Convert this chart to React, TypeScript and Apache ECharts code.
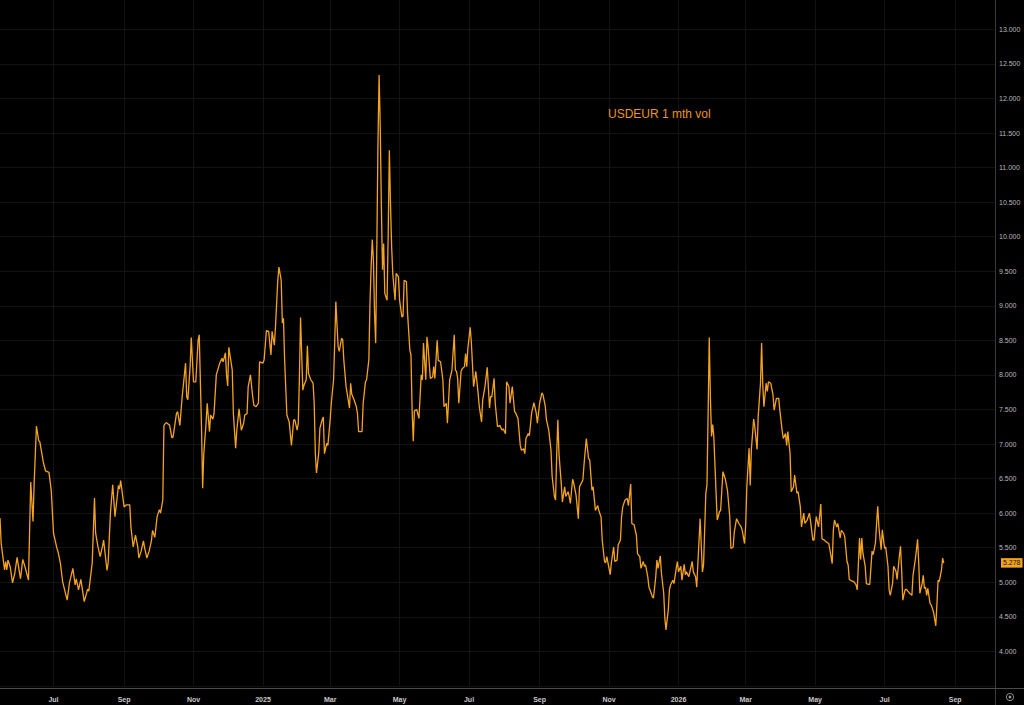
import React, { useEffect, useRef } from "react";
import * as echarts from "echarts";

// ---- data ----
const START_DATE = "2024-05-15";
const END_DATE = "2026-10-06";
const SERIES_NAME = "USDEUR 1 mth vol";
const LAST_VALUE = 5.278;
const MONTH_NAMES = ["Jan", "Feb", "Mar", "Apr", "May", "Jun", "Jul", "Aug", "Sep", "Oct", "Nov", "Dec"];
const LABEL_MONTHS = [1, 3, 5, 7, 9, 11];
const Y_MIN = 3.5;
const Y_MAX = 13.5;
const Y_STEP = 0.5;

// [days since START_DATE, 1-month implied vol]
const volSamples: [number, number][] = [
  [0, 5.93], [1, 5.57], [4, 5.18], [5, 5.3], [6, 5.18], [7, 5.32], [9, 5.22], [11, 4.99], [13, 5.13], [15, 5.36],
  [18, 5.05], [20, 5.33], [22, 5.22], [25, 5.03], [27, 6.45], [29, 5.88], [30, 6.43], [32, 7.26], [34, 7.05], [35, 7.03],
  [38, 6.74], [40, 6.61], [43, 6.59], [45, 6.33], [47, 5.71], [50, 5.49], [51, 5.44], [53, 5.28], [55, 5.01], [59, 4.74],
  [61, 4.99], [64, 5.2], [66, 4.96], [67, 5.05], [69, 4.89], [71, 5.04], [74, 4.72], [77, 4.9], [78, 4.87], [81, 5.28],
  [83, 6.22], [84, 5.71], [86, 5.52], [88, 5.37], [90, 5.52], [91, 5.61], [94, 5.17], [95, 5.28], [97, 6.0], [99, 6.41],
  [101, 5.95], [103, 6.24], [104, 6.4], [105, 6.35], [106, 6.47], [109, 6.09], [111, 6.12], [114, 6.12], [115, 5.8], [117, 5.51],
  [119, 5.68], [121, 5.51], [122, 5.35], [124, 5.45], [126, 5.6], [127, 5.5], [129, 5.35], [131, 5.45], [133, 5.6], [134, 5.75],
  [136, 5.65], [138, 5.95], [140, 6.05], [141, 6.0], [143, 6.19], [144, 7.27], [146, 7.31], [149, 7.27], [151, 7.09], [152, 7.1],
  [155, 7.44], [156, 7.47], [158, 7.27], [160, 7.68], [163, 8.17], [164, 7.68], [165, 7.64], [167, 8.12], [168, 8.54], [170, 7.9],
  [172, 7.9], [174, 8.5], [175, 8.58], [177, 7.25], [178, 6.36], [179, 6.86], [181, 7.3], [182, 7.59], [184, 7.18], [185, 7.42],
  [187, 7.36], [188, 7.44], [190, 8.0], [193, 8.17], [195, 8.24], [196, 8.19], [198, 8.32], [199, 8.0], [200, 7.84], [201, 8.4],
  [204, 8.07], [205, 7.44], [207, 6.94], [208, 7.2], [210, 7.51], [212, 7.2], [214, 7.3], [215, 7.42], [217, 7.44], [218, 7.83],
  [220, 8.0], [222, 7.68], [223, 7.56], [225, 7.54], [227, 7.59], [228, 8.19], [231, 8.17], [232, 8.22], [234, 8.64], [236, 8.63],
  [238, 8.29], [239, 8.63], [241, 8.43], [242, 8.7], [244, 9.37], [245, 9.56], [247, 9.37], [248, 8.75], [249, 8.82], [250, 8.22],
  [252, 7.42], [254, 7.32], [256, 6.98], [258, 7.35], [259, 7.35], [261, 7.2], [262, 7.3], [263, 7.97], [264, 8.83], [266, 7.78],
  [267, 7.85], [269, 7.93], [270, 8.42], [271, 8.02], [273, 7.93], [275, 7.88], [276, 7.59], [277, 6.86], [278, 6.58], [280, 6.88],
  [281, 7.23], [283, 7.35], [284, 7.39], [285, 6.86], [287, 7.01], [288, 6.98], [290, 7.35], [291, 7.59], [293, 7.93], [294, 8.46],
  [295, 9.06], [297, 8.41], [298, 8.34], [300, 8.53], [301, 8.51], [302, 8.22], [304, 7.83], [305, 7.73], [307, 7.52], [308, 7.88],
  [309, 7.72], [311, 7.64], [313, 7.54], [314, 7.44], [315, 7.18], [317, 7.18], [318, 7.18], [319, 7.59], [321, 7.9], [322, 7.93],
  [324, 8.22], [325, 9.04], [326, 9.57], [327, 9.96], [328, 9.66], [329, 8.89], [330, 8.46], [331, 9.86], [332, 11.35], [333, 12.34],
  [334, 11.59], [335, 10.43], [336, 9.52], [337, 9.9], [338, 9.18], [340, 9.08], [341, 10.05], [342, 11.25], [343, 10.48], [344, 9.86],
  [345, 9.47], [347, 9.08], [348, 9.47], [350, 9.42], [351, 9.08], [353, 8.84], [354, 8.85], [355, 9.37], [357, 9.35], [358, 8.89],
  [360, 8.36], [361, 8.29], [362, 7.49], [363, 7.04], [364, 7.48], [366, 7.5], [368, 7.37], [370, 8.0], [371, 7.93], [372, 8.46],
  [374, 7.93], [375, 8.55], [376, 8.41], [378, 7.95], [380, 7.97], [381, 8.12], [382, 7.95], [384, 8.5], [385, 8.21], [387, 8.19],
  [389, 7.93], [390, 7.54], [392, 7.59], [393, 7.3], [395, 7.93], [397, 8.07], [399, 8.58], [400, 8.07], [401, 8.05], [402, 7.95],
  [403, 7.59], [405, 8.05], [406, 8.09], [408, 8.12], [409, 8.31], [410, 8.12], [411, 8.39], [413, 8.69], [414, 8.48], [416, 7.83],
  [418, 8.05], [420, 7.73], [421, 7.54], [423, 7.32], [424, 7.64], [426, 7.83], [428, 8.11], [430, 7.52], [431, 7.69], [432, 7.68],
  [434, 7.95], [435, 7.59], [437, 7.25], [439, 7.27], [441, 7.2], [442, 7.22], [444, 7.15], [445, 7.9], [447, 7.83], [448, 7.59],
  [450, 7.83], [452, 7.47], [453, 7.45], [455, 7.37], [457, 6.98], [458, 6.91], [460, 6.93], [461, 6.86], [462, 7.08], [464, 7.15],
  [465, 7.12], [467, 7.45], [469, 7.6], [471, 7.45], [472, 7.3], [474, 7.59], [476, 7.74], [477, 7.71], [479, 7.54], [480, 7.35],
  [482, 7.2], [484, 6.91], [485, 6.53], [487, 6.24], [488, 6.19], [489, 6.86], [490, 7.35], [491, 6.86], [493, 6.43], [494, 6.16],
  [496, 6.38], [497, 6.24], [499, 6.31], [500, 6.24], [501, 6.14], [503, 6.49], [504, 6.43], [506, 6.26], [508, 5.92], [509, 6.38],
  [512, 6.48], [513, 6.7], [515, 7.08], [517, 6.79], [518, 6.77], [520, 6.33], [521, 6.38], [523, 6.04], [525, 6.11], [526, 6.04],
  [528, 5.94], [529, 5.61], [531, 5.3], [532, 5.28], [533, 5.37], [536, 5.11], [537, 5.28], [539, 5.51], [540, 5.3], [542, 5.32],
  [543, 5.54], [545, 5.61], [546, 5.95], [547, 6.09], [549, 6.19], [551, 6.21], [552, 6.11], [554, 6.42], [555, 5.85], [557, 5.83],
  [559, 5.68], [560, 5.41], [562, 5.37], [563, 5.2], [565, 5.3], [566, 5.23], [567, 5.25], [569, 5.08], [570, 4.93], [572, 4.84],
  [573, 4.79], [574, 4.77], [576, 5.08], [577, 5.32], [578, 5.2], [580, 5.38], [581, 5.13], [583, 4.84], [584, 4.48], [585, 4.31],
  [587, 4.6], [588, 4.89], [589, 4.96], [591, 5.03], [592, 4.98], [594, 5.2], [595, 5.3], [596, 5.15], [598, 5.23], [599, 5.03],
  [601, 5.26], [602, 5.11], [603, 5.15], [605, 5.08], [606, 5.15], [608, 5.3], [609, 5.15], [611, 5.08], [612, 4.93], [613, 5.27],
  [615, 5.92], [617, 5.15], [618, 5.25], [620, 6.29], [621, 6.41], [622, 7.44], [623, 8.54], [624, 7.68], [625, 7.11], [626, 7.28],
  [627, 7.11], [629, 6.29], [630, 5.9], [632, 6.02], [633, 6.04], [635, 6.6], [637, 6.5], [639, 6.33], [641, 5.95], [642, 5.49],
  [644, 5.51], [645, 5.73], [647, 5.92], [649, 5.85], [651, 5.8], [652, 5.75], [654, 5.56], [655, 5.82], [656, 6.38], [658, 6.94],
  [659, 6.4], [660, 6.92], [662, 7.36], [663, 7.25], [665, 6.92], [666, 7.4], [668, 7.88], [669, 8.46], [670, 7.86], [671, 7.54],
  [673, 7.88], [674, 7.76], [675, 7.9], [677, 7.88], [679, 7.71], [680, 7.49], [682, 7.66], [684, 7.66], [685, 7.49], [687, 7.2],
  [688, 7.08], [690, 7.15], [691, 6.98], [692, 7.18], [694, 6.86], [695, 6.31], [697, 6.38], [698, 6.55], [700, 6.29], [701, 6.31],
  [703, 6.09], [704, 5.8], [706, 6.0], [707, 5.85], [709, 5.9], [711, 6.0], [712, 5.88], [714, 5.61], [715, 5.61], [717, 5.95],
  [719, 5.8], [721, 6.13], [722, 5.63], [724, 5.61], [726, 5.58], [728, 5.56], [729, 5.47], [731, 5.27], [732, 5.75], [733, 5.9],
  [735, 5.8], [736, 5.85], [738, 5.64], [739, 5.75], [741, 5.71], [742, 5.66], [744, 5.3], [745, 5.25], [746, 5.04], [748, 5.02],
  [750, 5.01], [752, 4.96], [753, 4.89], [755, 5.64], [756, 5.33], [757, 5.64], [758, 5.42], [760, 5.23], [761, 4.98], [763, 4.97],
  [764, 4.97], [766, 5.45], [767, 5.4], [769, 5.57], [770, 5.86], [771, 6.1], [772, 5.8], [774, 5.47], [775, 5.76], [777, 5.49],
  [778, 5.51], [780, 5.23], [781, 4.89], [782, 4.81], [784, 4.98], [785, 5.23], [787, 5.16], [788, 5.04], [790, 5.38], [791, 5.52],
  [792, 5.18], [793, 4.74], [795, 4.89], [796, 4.9], [798, 4.86], [799, 4.84], [801, 4.81], [802, 5.1], [804, 5.33], [805, 5.47],
  [806, 5.62], [807, 5.28], [808, 4.84], [810, 4.98], [811, 5.1], [812, 4.91], [813, 4.93], [814, 4.81], [815, 4.91], [817, 4.69],
  [818, 4.67], [820, 4.57], [822, 4.37], [823, 4.69], [824, 5.03], [825, 5.01], [827, 5.18], [828, 5.35], [829, 5.278],
];

// ---- helpers ----
function buildDays(start: string, end: string): string[] {
  const out: string[] = [];
  const s = Date.parse(start + "T00:00:00Z");
  const e = Date.parse(end + "T00:00:00Z");
  for (let t = s; t <= e; t += 86400000) out.push(new Date(t).toISOString().slice(0, 10));
  return out;
}

function isLabelDay(v: string): boolean {
  const m = parseInt(v.slice(5, 7), 10);
  return v.slice(8, 10) === "01" && LABEL_MONTHS.indexOf(m) >= 0;
}

function labelText(v: string): string {
  const m = parseInt(v.slice(5, 7), 10);
  return m === 1 ? v.slice(0, 4) : MONTH_NAMES[m - 1];
}

const FONT = "'Liberation Sans', Arial, sans-serif";
const LINE_COLOR = "#f5a31f";
const GRID_COLOR = "#131313";
// the chart canvas starts 6px above the page so the plot can begin just above its top edge
const SHIFT = 6;

export default function App() {
  const ref = useRef<HTMLDivElement>(null);

  useEffect(() => {
    if (!ref.current) return;
    const chart = echarts.init(ref.current, undefined, { renderer: "svg" });
    const days = buildDays(START_DATE, END_DATE);
    const values: (number | null)[] = days.map(() => null);
    volSamples.forEach(([d, v]) => {
      values[d] = v;
    });

    chart.setOption({
      animation: false,
      backgroundColor: "#000000",
      title: {
        text: SERIES_NAME,
        left: 603,
        top: 103 + SHIFT,
        textStyle: { color: "#e8961c", fontSize: 12, fontWeight: "normal", fontFamily: FONT },
      },
      grid: { left: 0, right: 29, top: SHIFT - 5.2, bottom: 19.1, containLabel: false },
      xAxis: {
        type: "category",
        data: days,
        boundaryGap: false,
        axisLine: { show: false },
        axisTick: { show: false },
        axisLabel: {
          interval: (_i: number, v: string) => isLabelDay(v),
          formatter: (v: string) => labelText(v),
          color: "#c9c9c9",
          fontSize: 7,
          fontFamily: FONT,
          fontWeight: "bold",
          margin: 10,
        },
        splitLine: {
          show: true,
          interval: (_i: number, v: string) => isLabelDay(v),
          lineStyle: { color: GRID_COLOR, width: 1 },
        },
      },
      yAxis: {
        type: "value",
        position: "right",
        min: Y_MIN,
        max: Y_MAX,
        interval: Y_STEP,
        axisLine: { show: false },
        axisTick: { show: false },
        axisLabel: {
          formatter: (v: number) => v.toFixed(3),
          showMinLabel: false,
          showMaxLabel: false,
          color: "#b9b9b9",
          fontSize: 7,
          fontFamily: FONT,
          margin: 4,
        },
        splitLine: { show: true, lineStyle: { color: GRID_COLOR, width: 1 } },
      },
      series: [
        {
          name: SERIES_NAME,
          type: "line",
          data: values,
          connectNulls: true,
          showSymbol: false,
          symbol: "none",
          lineStyle: { color: LINE_COLOR, width: 1.3 },
          markLine: {
            silent: true,
            symbol: ["none", "none"],
            lineStyle: { color: "transparent", width: 0 },
            data: [{ yAxis: LAST_VALUE }],
            label: {
              show: true,
              position: "end",
              distance: 6,
              formatter: () => LAST_VALUE.toFixed(3),
              color: "#111111",
              backgroundColor: LINE_COLOR,
              padding: [1.5, 2, 1, 2],
              fontSize: 7,
              fontFamily: FONT,
            },
          },
        },
      ],
      graphic: [
        {
          type: "line",
          silent: true,
          shape: { x1: 995.5, y1: 0, x2: 995.5, y2: 705 + SHIFT },
          style: { stroke: "#3a3a3a", lineWidth: 1 },
        },
        {
          type: "line",
          silent: true,
          shape: { x1: 0, y1: 688.5 + SHIFT, x2: 1024, y2: 688.5 + SHIFT },
          style: { stroke: "#4a4a4a", lineWidth: 1 },
        },
        {
          type: "ring",
          silent: true,
          shape: { cx: 1010, cy: 697 + SHIFT, r: 4, r0: 3.2 },
          style: { fill: "#9a9a9a" },
        },
        {
          type: "circle",
          silent: true,
          shape: { cx: 1010, cy: 697 + SHIFT, r: 1.4 },
          style: { fill: "#9a9a9a" },
        },
      ],
    });

    return () => chart.dispose();
  }, []);

  return (
    <div style={{ position: "fixed", left: 0, top: 0, width: 1024, height: 705, overflow: "hidden", background: "#000" }}>
      <div
        ref={ref}
        style={{ position: "absolute", left: 0, top: -SHIFT, width: 1024, height: 705 + SHIFT }}
      />
    </div>
  );
}
